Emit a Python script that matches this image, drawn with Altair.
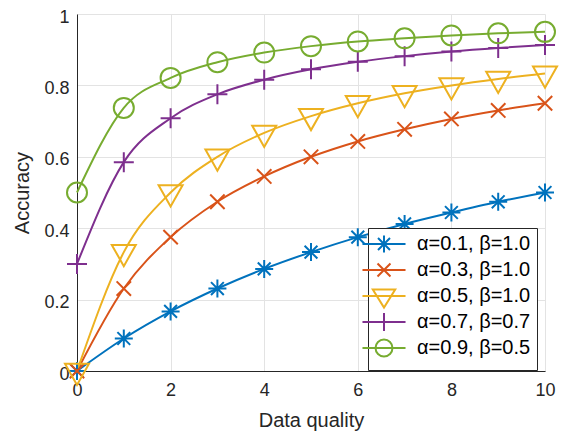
import altair as alt
import pandas as pd

x_vals = [0, 1, 2, 3, 4, 5, 6, 7, 8, 9, 10]
labels = ["α=0.1, β=1.0", "α=0.3, β=1.0", "α=0.5, β=1.0", "α=0.7, β=0.7", "α=0.9, β=0.5"]
s1 = [0.0, 0.091, 0.167, 0.231, 0.286, 0.333, 0.375, 0.412, 0.444, 0.474, 0.5]
s2 = [0.0, 0.231, 0.375, 0.474, 0.545, 0.600, 0.643, 0.677, 0.706, 0.730, 0.750]
s3 = [0.0, 0.333, 0.500, 0.600, 0.667, 0.714, 0.750, 0.778, 0.800, 0.818, 0.833]
s4 = [0.300, 0.585, 0.708, 0.775, 0.816, 0.845, 0.866, 0.882, 0.895, 0.905, 0.913]
s5 = [0.500, 0.737, 0.821, 0.865, 0.892, 0.910, 0.923, 0.932, 0.940, 0.946, 0.950]
series = [s1, s2, s3, s4, s5]
colors = ["#0072BD", "#D95319", "#EDB120", "#7E2F8E", "#77AC30"]

rows = []
for lab, ys in zip(labels, series):
    for xv, yv in zip(x_vals, ys):
        rows.append({"x": xv, "y": yv, "series": lab})
df = pd.DataFrame(rows)

marker_paths = [
    "M-0.9,0L0.9,0M0,-0.9L0,0.9M-0.64,-0.64L0.64,0.64M-0.64,0.64L0.64,-0.64",
    "M-0.72,-0.72L0.72,0.72M-0.72,0.72L0.72,-0.72",
    "M-1.2,-0.72L1.2,-0.72L0,1.4Z",
    "M-1,0L1,0M0,-1L0,1",
    "M-1,0A1,1 0 1,0 1,0A1,1 0 1,0 -1,0Z",
]
# each legend symbol: a line segment plus the marker, with equal vertical extent
legend_paths = [
    "M0,-1.44M0,1.44M-2.69,0L2.69,0M-1.06,0L1.06,0M0,-1.06L0,1.06M-0.75,-0.75L0.75,0.75M-0.75,0.75L0.75,-0.75",
    "M0,-1.44M0,1.44M-2.69,0L2.69,0M-0.81,-0.81L0.81,0.81M-0.81,0.81L0.81,-0.81",
    "M0,-1.44M0,1.44M-2.69,0L2.69,0M-1.4,-0.8L1.4,-0.8L0,1.44Z",
    "M0,-1.44M0,1.44M-2.69,0L2.69,0M-1.12,0L1.12,0M0,-1.12L0,1.12",
    "M0,-1.44M0,1.44M-2.69,0L2.69,0M-1.06,0A1.06,1.06 0 1,0 1.06,0A1.06,1.06 0 1,0 -1.06,0Z",
]

font = "Liberation Sans"
xscale = alt.Scale(domain=[0, 10], nice=False)
yscale = alt.Scale(domain=[0, 1], nice=False)

xenc = alt.X("x:Q", scale=xscale, title="Data quality",
             axis=alt.Axis(values=[0, 2, 4, 6, 8, 10], format="d", labelFlush=False))
yenc = alt.Y("y:Q", scale=yscale, title="Accuracy",
             axis=alt.Axis(values=[0, 0.2, 0.4, 0.6, 0.8, 1], format="~g", labelFlush=False,
                           labelOffset=3))

base = alt.Chart(df)

lines = base.mark_line(strokeWidth=2, interpolate="monotone").encode(
    x=xenc, y=yenc,
    color=alt.Color("series:N", scale=alt.Scale(domain=labels, range=colors), legend=None),
    detail="series:N",
)

points = base.mark_point(filled=False, strokeWidth=2, size=400, opacity=1).encode(
    x=xenc, y=yenc,
    color=alt.Color("series:N", scale=alt.Scale(domain=labels, range=colors), legend=None),
    shape=alt.Shape("series:N", scale=alt.Scale(domain=labels, range=marker_paths), legend=None),
)

legend_layer = base.mark_point(filled=False, strokeWidth=2, size=256, opacity=0).encode(
    x=xenc, y=yenc,
    color=alt.Color("series:N", scale=alt.Scale(domain=labels, range=colors),
                    legend=alt.Legend(title=None)),
    shape=alt.Shape("series:N", scale=alt.Scale(domain=labels, range=legend_paths),
                    legend=alt.Legend(title=None)),
)

chart = alt.layer(lines, points, legend_layer).resolve_scale(
    color="independent", shape="independent"
).properties(
    width=468, height=357,
    autosize=alt.AutoSizeParams(type="none"),
    padding={"left": 69, "top": 6, "right": 19, "bottom": 64},
).configure_view(stroke=None).configure_axis(
    labelFont=font, titleFont=font, labelFontSize=18, titleFontSize=20,
    labelColor="#262626", titleColor="#262626", titleFontWeight="normal",
    domainColor="#262626", domainWidth=1, ticks=False, tickSize=0,
    gridColor="#e3e3e3", gridWidth=1,
).configure_axisX(labelPadding=10, titlePadding=11).configure_axisY(
    labelPadding=8, titlePadding=11
).configure_legend(
    orient="none", legendX=291, legendY=214,
    strokeColor="#262626", fillColor="white", padding=6,
    labelFont=font, labelFontSize=20, labelColor="black",
    symbolSize=256, symbolStrokeWidth=2, labelOffset=23, rowPadding=-10,
)

chart.save("out.html", embed_options={"renderer": "svg", "actions": False})
